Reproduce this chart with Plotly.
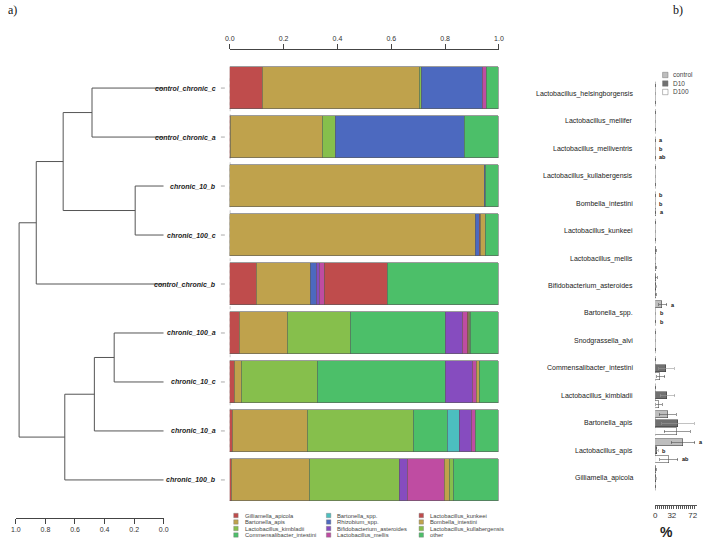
import plotly.graph_objects as go

W, H = 708, 539

# ---- panel a: samples, clustering and relative abundance ----
samples = ["control_chronic_c", "control_chronic_a", "chronic_10_b", "chronic_100_c",
           "control_chronic_b", "chronic_100_a", "chronic_10_c", "chronic_10_a",
           "chronic_100_b"]

# hclust style merge table: negative = leaf (1-based), positive = earlier merge row
merge_pairs = [(-1, -2), (-3, -4), (1, 2), (3, -5), (-6, -7), (5, -8), (6, -9), (4, 7)]
merge_heights = [0.485, 0.193, 0.68, 0.862, 0.335, 0.469, 0.669, 0.978]

taxa = ["Gilliamella_apicola", "Bartonella_apis", "Lactobacillus_kimbladii",
        "Commensalibacter_intestini", "Bartonella_spp.", "Rhizobium_spp.",
        "Bifidobacterium_asteroides", "Lactobacillus_mellis", "Lactobacillus_kunkeei",
        "Bombella_intestini", "Lactobacillus_kullabergensis", "other"]
taxa_colors = ["#BF4C4C", "#BFA24C", "#86BF4C", "#4CBF69", "#4CBFBF", "#4C69BF",
               "#864CBF", "#BF4CA2", "#BF4C4C", "#BFA24C", "#86BF4C", "#4CBF69"]

gilliamella_apicola = [0.123, 0.003, 0.0, 0.0, 0.101, 0.038, 0.02, 0.01, 0.009]
bartonella_apis = [0.584, 0.341, 0.948, 0.913, 0.199, 0.179, 0.026, 0.28, 0.289]
lactobacillus_kimbladii = [0.005, 0.048, 0.0, 0.0, 0.002, 0.233, 0.282, 0.393, 0.332]
commensalibacter_intestini = [0, 0, 0, 0, 0, 0.353, 0.476, 0.128, 0]
bartonella_spp = [0, 0, 0, 0, 0, 0, 0, 0.042, 0]
rhizobium_spp = [0.227, 0.48, 0.004, 0.014, 0.02, 0, 0, 0, 0]
bifidobacterium_asteroides = [0, 0, 0, 0.003, 0.011, 0.063, 0.098, 0.046, 0.03]
lactobacillus_mellis = [0.017, 0, 0, 0, 0.021, 0.018, 0.015, 0.014, 0.137]
lactobacillus_kunkeei = [0, 0, 0, 0.003, 0.233, 0.004, 0, 0, 0]
bombella_intestini = [0, 0, 0, 0.02, 0, 0.005, 0.01, 0, 0.022]
lactobacillus_kullabergensis = [0, 0, 0, 0, 0, 0.002, 0.003, 0.002, 0.015]
other = [0.044, 0.128, 0.048, 0.047, 0.413, 0.105, 0.07, 0.085, 0.166]

abundances = [gilliamella_apicola, bartonella_apis, lactobacillus_kimbladii,
              commensalibacter_intestini, bartonella_spp, rhizobium_spp,
              bifidobacterium_asteroides, lactobacillus_mellis, lactobacillus_kunkeei,
              bombella_intestini, lactobacillus_kullabergensis, other]

# ---- panel b: mean % per treatment ----
species = ["Lactobacillus_helsingborgensis", "Lactobacillus_mellifer",
           "Lactobacillus_melliventris", "Lactobacillus_kullabergensis",
           "Bombella_intestini", "Lactobacillus_kunkeei", "Lactobacillus_mellis",
           "Bifidobacterium_asteroides", "Bartonella_spp.", "Snodgrassella_alvi",
           "Commensalibacter_intestini", "Lactobacillus_kimbladii", "Bartonella_apis",
           "Lactobacillus_apis", "Gilliamella_apicola"]
treatments = ["control", "D10", "D100"]
control_mean = [0.2, 0.1, 0.3, 0.2, 0.2, 0.5, 1.0, 2.0, 14.2, 0.3, 0.5, 0.5, 24.2, 53.4, 1.5]
control_sd = [0.2, 0.1, 0.3, 0.2, 0.2, 0.4, 0.8, 1.5, 7.6, 0.3, 0.5, 0.4, 16.0, 23.0, 1.0]
d10_mean = [0.1, 0.1, 0.1, 0.1, 0.3, 0.3, 0.8, 1.5, 0.8, 0.3, 21.8, 23.7, 44.0, 4.5, 1.0]
d10_sd = [0.1, 0.1, 0.1, 0.1, 0.3, 0.3, 0.6, 1.2, 0.5, 0.3, 15.0, 14.0, 31.0, 1.5, 0.6]
d100_mean = [0.1, 0.1, 0.2, 0.1, 1.0, 0.2, 1.2, 1.0, 0.5, 0.3, 10.4, 7.2, 42.0, 26.0, 0.8]
d100_sd = [0.1, 0.1, 0.2, 0.1, 0.5, 0.2, 0.8, 1.0, 0.3, 0.3, 7.6, 6.4, 25.0, 17.0, 0.5]
control_letters = ["", "", "a", "", "b", "", "", "", "a", "", "", "", "", "a", ""]
d10_letters = ["", "", "b", "", "b", "", "", "", "b", "", "", "", "", "b", ""]
d100_letters = ["", "", "ab", "", "a", "", "", "", "b", "", "", "", "", "ab", ""]
pct_ticks = list(range(0, 80, 4))
pct_labels = ["0", "32", "72"]

FONT = "Liberation Sans, Arial, sans-serif"


def px(x):
    return x / W


def py(y):
    return 1 - y / H


def dendro_lines():
    pos = {}
    xs, ys = [], []
    for i, ((a, b), h) in enumerate(zip(merge_pairs, merge_heights), start=1):
        ends = []
        for c in (a, b):
            if c < 0:
                cy, ch = -c - 1, 0.0
            else:
                cy, ch = pos[c]
            xs += [ch, h, None]
            ys += [cy, cy, None]
            ends.append(cy)
        xs += [h, h, None]
        ys += [ends[0], ends[1], None]
        pos[i] = ((ends[0] + ends[1]) / 2, h)
    return xs, ys


fig = go.Figure()

dx, dy = dendro_lines()
fig.add_trace(go.Scatter(x=dx, y=dy, mode="lines", line=dict(color="#555", width=1),
                         xaxis="x2", yaxis="y2", showlegend=False, hoverinfo="skip"))

rows = list(range(len(samples)))
for name, vals, col in zip(taxa, abundances, taxa_colors):
    fig.add_trace(go.Bar(x=vals, y=rows, orientation="h", name=name, width=0.84,
                         marker=dict(color=col, line=dict(color="#5a5a5a", width=0.6)),
                         xaxis="x", yaxis="y", showlegend=False))

groups = list(range(len(species)))
offsets = [-0.31, 0.0, 0.31]
fills = ["#BEBEBE", "#707070", "#FFFFFF"]
err_cols = ["#555", "#999", "#555"]
means = [control_mean, d10_mean, d100_mean]
sds = [control_sd, d10_sd, d100_sd]
letters = [control_letters, d10_letters, d100_letters]
for t, off, fc, ec, m, s in zip(treatments, offsets, fills, err_cols, means, sds):
    fig.add_trace(go.Bar(x=m, y=[g + off for g in groups], orientation="h", name=t,
                         width=0.255, xaxis="x3", yaxis="y3", showlegend=False,
                         marker=dict(color=fc, line=dict(color="#333", width=0.5)),
                         error_x=dict(type="data", array=s, color=ec, thickness=0.6,
                                      width=1.5)))

ann = []
shapes = []

# sample labels and little connectors
for i, s in enumerate(samples):
    ann.append(dict(x=px(216), y=i, xref="paper", yref="y2", xanchor="right",
                    yanchor="middle", text=f"<b><i>{s}</i></b>", showarrow=False,
                    font=dict(size=7, color="#222", family=FONT)))
    shapes.append(dict(type="line", xref="paper", yref="y2", x0=px(219), x1=px(223),
                       y0=i, y1=i, line=dict(color="#aaa", width=1)))
shapes.append(dict(type="line", xref="x", yref="y", x0=0, x1=0, y0=-0.2, y1=7.4,
                   line=dict(color="#888", width=1, dash="dot"), layer="below"))

# legend of panel a (3 columns x 4 rows)
col_x = [232, 326, 420]
row_y = [515.5, 522, 528.5, 535]
for k, (name, col) in enumerate(zip(taxa, taxa_colors)):
    cx, ry = col_x[k // 4], row_y[k % 4]
    shapes.append(dict(type="rect", xref="paper", yref="paper", x0=px(cx), x1=px(cx + 4.5),
                       y0=py(ry + 2.2), y1=py(ry - 2.2), fillcolor=col,
                       line=dict(color="#777", width=0.4)))
    ann.append(dict(x=px(cx + 9), y=py(ry), xref="paper", yref="paper", xanchor="left",
                    yanchor="middle", text=name, showarrow=False,
                    font=dict(size=5.8, color="#444", family=FONT)))

# panel b labels and zero baselines
for g, s in zip(groups, species):
    ann.append(dict(x=px(639), y=g, xref="paper", yref="y3", xanchor="right",
                    yanchor="middle", text=s, showarrow=False,
                    font=dict(size=7, color="#222", family=FONT)))
    shapes.append(dict(type="line", xref="x3", yref="y3", x0=0, x1=0, y0=g - 0.45,
                       y1=g + 0.45, line=dict(color="#666", width=0.8), layer="below"))
for off, m, s, let in zip(offsets, means, sds, letters):
    for g in groups:
        if let[g]:
            ann.append(dict(x=m[g] + s[g], y=g + off, xref="x3", yref="y3",
                            xanchor="left", yanchor="middle", xshift=2,
                            text=f"<b>{let[g]}</b>", showarrow=False,
                            font=dict(size=5.5, color="#111", family=FONT)))

# panel b legend
for k, (t, fc) in enumerate(zip(treatments, fills)):
    ly = 75 + 8.5 * k
    shapes.append(dict(type="rect", xref="paper", yref="paper", x0=px(667), x1=px(672.5),
                       y0=py(ly + 2.7), y1=py(ly - 2.7), fillcolor=fc,
                       line=dict(color="#777", width=0.5)))
    ann.append(dict(x=px(676), y=py(ly), xref="paper", yref="paper", xanchor="left",
                    yanchor="middle", text=t, showarrow=False,
                    font=dict(size=6.5, color="#444", family=FONT)))

ann.append(dict(x=px(680), y=py(532), xref="paper", yref="paper", text="<b>%</b>",
                yanchor="middle", showarrow=False,
                font=dict(size=14, color="#222", family=FONT)))
ann.append(dict(x=px(1), y=py(10), xref="paper", yref="paper", xanchor="left",
                yanchor="middle", text="a)", showarrow=False,
                font=dict(size=12, color="#111", family="Liberation Serif, serif")))
ann.append(dict(x=px(676), y=py(10), xref="paper", yref="paper", xanchor="left",
                yanchor="middle", text="b)", showarrow=False,
                font=dict(size=12, color="#111", family="Liberation Serif, serif")))

tick_font = dict(size=7, color="#333", family=FONT)
fig.update_layout(
    width=W, height=H, autosize=False,
    margin=dict(l=0, r=0, t=0, b=0),
    paper_bgcolor="white", plot_bgcolor="white",
    barmode="stack", bargap=0,
    font=dict(family=FONT),
    xaxis=dict(domain=[px(228), px(501)], range=[0, 1], anchor="y", side="top",
               tickvals=[0, 0.2, 0.4, 0.6, 0.8, 1.0],
               ticktext=["0.0", "0.2", "0.4", "0.6", "0.8", "1.0"],
               ticks="outside", ticklen=5, tickcolor="#444", showline=True,
               linecolor="#444", linewidth=1, showgrid=False, zeroline=False,
               tickfont=tick_font),
    yaxis=dict(domain=[py(501), py(50)], range=[8.43, -0.777], visible=False),
    xaxis2=dict(domain=[px(11), px(161)], range=[1, 0], anchor="y2", side="bottom",
                tickvals=[0, 0.2, 0.4, 0.6, 0.8, 1.0],
                ticktext=["0.0", "0.2", "0.4", "0.6", "0.8", "1.0"],
                ticks="outside", ticklen=5, tickcolor="#444", showline=True,
                linecolor="#444", linewidth=1, showgrid=False, zeroline=False,
                tickfont=tick_font),
    yaxis2=dict(domain=[py(518), py(67)], range=[8.777, -0.43], visible=False),
    xaxis3=dict(domain=[px(659.5), px(701.5)], range=[0, 79.5], anchor="y3",
                side="bottom", tickvals=pct_ticks,
                ticktext=[str(v) if str(v) in pct_labels else "" for v in pct_ticks],
                ticks="outside", ticklen=3, tickcolor="#555", tickwidth=0.6,
                showline=True, linecolor="#555", linewidth=0.6, showgrid=False,
                zeroline=False, tickfont=dict(size=8, color="#333", family=FONT)),
    yaxis3=dict(domain=[py(505), py(80)], range=[14.98, -0.51], visible=False),
    annotations=ann,
    shapes=shapes,
)

# the page body has a default 8px margin; drop it so the figure sits at 0,0
fig.write_html("out.html", config={"displayModeBar": False},
               post_script="document.body.style.margin='0';")
